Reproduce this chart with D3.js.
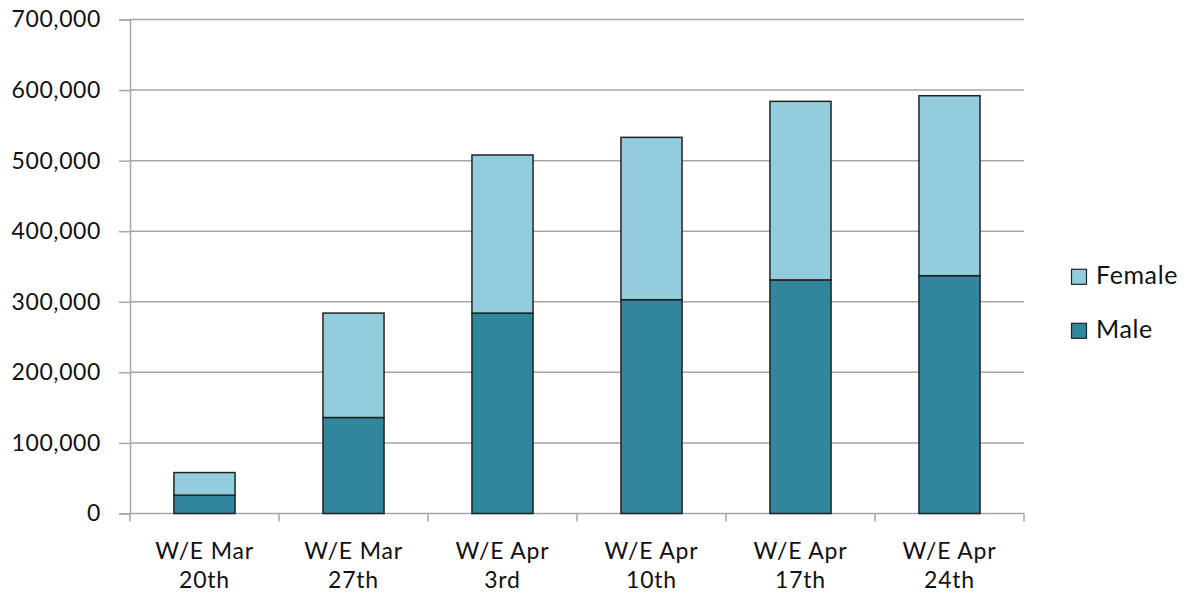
<!DOCTYPE html>
<html>
<head>
<meta charset="utf-8">
<script src="https://cdn.jsdelivr.net/npm/d3@7"></script>
<style>
  body { margin: 0; background: #fff; }
  svg { display: block; font-family: Lato, "Open Sans", sans-serif; }
</style>
</head>
<body>
<svg id="chart" width="1191" height="594"></svg>
<script>
// Weekly counts split by sex
const weeks = [["W/E Mar", "20th"], ["W/E Mar", "27th"], ["W/E Apr", "3rd"], ["W/E Apr", "10th"], ["W/E Apr", "17th"], ["W/E Apr", "24th"]];
const male = [26000, 136000, 284000, 303000, 331000, 337000];
const female = [32000, 148000, 224000, 230000, 253000, 255000];
const yTicks = [0, 100000, 200000, 300000, 400000, 500000, 600000, 700000];
const seriesNames = ["Male", "Female"];
const seriesColors = ["#31859c", "#93cddd"];

const svg = d3.select("#chart");
const plotLeft = 130, plotRight = 1024, plotTop = 19.5, plotBottom = 513.5;

const x = d3.scaleBand().domain(d3.range(weeks.length)).range([plotLeft, plotRight]).paddingInner(0.59).paddingOuter(0.295);
const xOuter = d3.scaleBand().domain(d3.range(weeks.length)).range([plotLeft, plotRight]);
const y = d3.scaleLinear().domain([0, 700000]).range([plotBottom, plotTop]);

// horizontal gridlines
svg.append("g").selectAll("line").data(yTicks.slice(1)).join("line")
  .attr("x1", plotLeft).attr("x2", plotRight)
  .attr("y1", d => y(d)).attr("y2", d => y(d))
  .attr("stroke", "#a6a6a6").attr("stroke-width", 1.5);

// y axis
const yAxis = svg.append("g").attr("transform", `translate(${plotLeft},0)`)
  .call(d3.axisLeft(y).tickValues(yTicks).tickSize(11).tickPadding(18).tickFormat(d3.format(",")));
yAxis.select(".domain").attr("stroke", "#a6a6a6").attr("stroke-width", 1.5);
yAxis.selectAll(".tick line").attr("stroke", "#a6a6a6").attr("stroke-width", 1.5);
yAxis.selectAll("text").attr("font-size", 23).attr("letter-spacing", "0.6px")
  .attr("fill", "#111").attr("font-family", "Lato, sans-serif");

// x axis baseline and category ticks
svg.append("line").attr("x1", plotLeft).attr("x2", plotRight).attr("y1", plotBottom).attr("y2", plotBottom)
  .attr("stroke", "#a6a6a6").attr("stroke-width", 1.5);
const boundaries = d3.range(weeks.length + 1).map(i => i < weeks.length ? xOuter(i) : plotRight);
svg.append("g").selectAll("line").data(boundaries).join("line")
  .attr("x1", d => d).attr("x2", d => d).attr("y1", plotBottom).attr("y2", plotBottom + 8)
  .attr("stroke", "#a6a6a6").attr("stroke-width", 1.5);

// category labels
const xl = svg.append("g").selectAll("text").data(weeks).join("text")
  .attr("text-anchor", "middle").attr("font-size", 23).attr("letter-spacing", "0.8px").attr("fill", "#111");
xl.append("tspan").attr("x", (d, i) => x(i) + x.bandwidth() / 2).attr("y", 558.5).text(d => d[0]);
xl.append("tspan").attr("x", (d, i) => x(i) + x.bandwidth() / 2).attr("y", 587.5).text(d => d[1]);

// stacked bars
const rows = weeks.map((w, i) => ({ i, Male: male[i], Female: female[i] }));
const stack = d3.stack().keys(seriesNames)(rows);
svg.append("g").selectAll("g").data(stack).join("g")
  .attr("fill", (d, k) => seriesColors[k])
  .selectAll("rect").data(d => d).join("rect")
  .attr("x", d => x(d.data.i))
  .attr("width", x.bandwidth())
  .attr("y", d => y(d[1]))
  .attr("height", d => y(d[0]) - y(d[1]))
  .attr("stroke", "#222").attr("stroke-width", 1.5);

// legend
const legend = svg.append("g");
const legendItems = [{ name: "Female", color: seriesColors[1], base: 284.3 }, { name: "Male", color: seriesColors[0], base: 338.3 }];
legend.selectAll("rect").data(legendItems).join("rect")
  .attr("x", 1071.5).attr("y", d => d.base - 15).attr("width", 15).attr("height", 15)
  .attr("fill", d => d.color).attr("stroke", "#222").attr("stroke-width", 1.2);
legend.selectAll("text").data(legendItems).join("text")
  .attr("x", 1096).attr("y", d => d.base).attr("font-size", 25).attr("letter-spacing", "0.6px").attr("fill", "#111")
  .text(d => d.name);
</script>
</body>
</html>
